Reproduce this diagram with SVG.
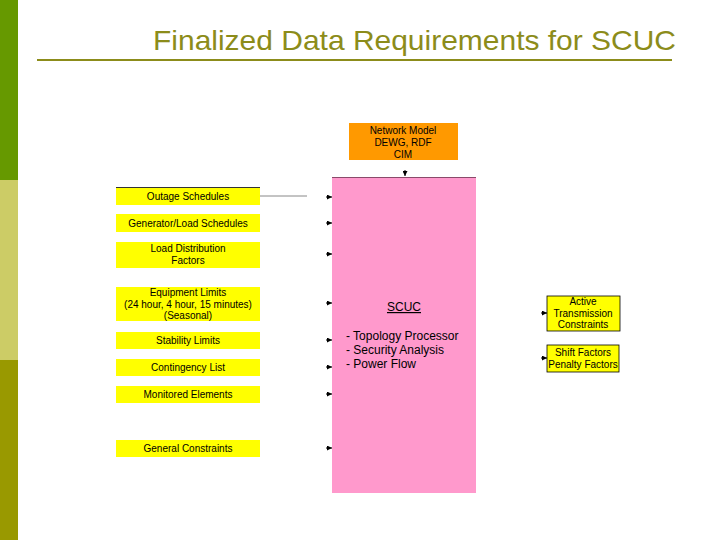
<svg xmlns="http://www.w3.org/2000/svg" width="720" height="540" viewBox="0 0 720 540">
<defs>
<marker id="ah" viewBox="0 0 10 10" refX="10" refY="5" markerWidth="5" markerHeight="5" orient="auto" markerUnits="userSpaceOnUse"><path d="M0,0 L10,5 L0,10 z" fill="#000"/></marker>
</defs>
<style>
text{font-family:"Liberation Sans",Arial,sans-serif;fill:#000}
.y{fill:#ffff00}
.t{font-size:10px;text-anchor:middle}
.c{stroke:#000;stroke-width:1;fill:none}
</style>
<rect width="720" height="540" fill="#fff"/>
<rect x="0" y="0" width="18" height="180" fill="#669900"/>
<rect x="0" y="180" width="18" height="180" fill="#cccc66"/>
<rect x="0" y="360" width="18" height="180" fill="#999900"/>
<text x="153" y="50" font-size="28" textLength="523" lengthAdjust="spacingAndGlyphs" style="fill:#8c8c1a">Finalized Data Requirements for SCUC</text>
<line x1="37" y1="60" x2="672" y2="60" stroke="#8c8c1a" stroke-width="2"/>

<g id="scuc">
<rect x="332" y="177" width="144" height="316" fill="#ff99cc"/>
<line x1="332" y1="177.5" x2="476" y2="177.5" stroke="#8a4a6a" stroke-width="1"/>
<text x="404" y="311" font-size="12" text-anchor="middle" text-decoration="underline">SCUC</text>
<text x="346" y="340" font-size="12">- Topology Processor</text>
<text x="346" y="354" font-size="12">- Security Analysis</text>
<text x="346" y="368" font-size="12">- Power Flow</text>
</g>
<g id="network">
<rect x="349" y="123" width="109" height="37" fill="#ff9900"/>
<text class="t" x="403" y="134">Network Model</text>
<text class="t" x="403" y="146">DEWG, RDF</text>
<text class="t" x="403" y="158">CIM</text>
</g>
<g id="outage"><rect class="y" x="116" y="187" width="144" height="18"/><line x1="116" y1="187.5" x2="260" y2="187.5" stroke="#333"/><text class="t" x="188" y="200">Outage Schedules</text></g>
<g id="genload"><rect class="y" x="116" y="214" width="144" height="18"/><text class="t" x="188" y="227">Generator/Load Schedules</text></g>
<g id="loaddist"><rect class="y" x="116" y="242" width="144" height="26"/><text class="t" x="188" y="252">Load Distribution</text><text class="t" x="188" y="264">Factors</text></g>
<g id="equip"><rect class="y" x="116" y="287" width="144" height="34"/><text class="t" x="188" y="296">Equipment Limits</text><text class="t" x="188" y="308">(24 hour, 4 hour, 15 minutes)</text><text class="t" x="188" y="319">(Seasonal)</text></g>
<g id="stability"><rect class="y" x="116" y="332" width="144" height="17"/><text class="t" x="188" y="344">Stability Limits</text></g>
<g id="contingency"><rect class="y" x="116" y="359" width="144" height="17"/><text class="t" x="188" y="371">Contingency List</text></g>
<g id="monitored"><rect class="y" x="116" y="386" width="144" height="17"/><text class="t" x="188" y="398">Monitored Elements</text></g>
<g id="general"><rect class="y" x="116" y="440" width="144" height="17"/><text class="t" x="188" y="452">General Constraints</text></g>
<g id="active"><rect class="y" x="547" y="296" width="73" height="35" stroke="#000" stroke-width="0.8"/><text class="t" x="583" y="305">Active</text><text class="t" x="583" y="317">Transmission</text><text class="t" x="583" y="328">Constraints</text></g>
<g id="shift"><rect class="y" x="547" y="345" width="72" height="27" stroke="#000" stroke-width="0.8"/><text class="t" x="583" y="356">Shift Factors</text><text class="t" x="583" y="368">Penalty Factors</text></g>

<g id="connectors">
<line x1="260" y1="196" x2="307" y2="196" stroke="#888" stroke-width="1"/>
<path d="M326,197 L332,197" class="c" marker-end="url(#ah)"/>
<path d="M326,223 L332,223" class="c" marker-end="url(#ah)"/>
<path d="M326,254 L332,254" class="c" marker-end="url(#ah)"/>
<path d="M326,303 L332,303" class="c" marker-end="url(#ah)"/>
<path d="M326,340 L332,340" class="c" marker-end="url(#ah)"/>
<path d="M326,367 L332,367" class="c" marker-end="url(#ah)"/>
<path d="M326,394 L332,394" class="c" marker-end="url(#ah)"/>
<path d="M326,448 L332,448" class="c" marker-end="url(#ah)"/>
<path d="M405,170 L405,176" class="c" marker-end="url(#ah)"/>
<path d="M541,313 L547,313" class="c" marker-end="url(#ah)"/>
<path d="M541,358 L547,358" class="c" marker-end="url(#ah)"/>
</g>
</svg>
